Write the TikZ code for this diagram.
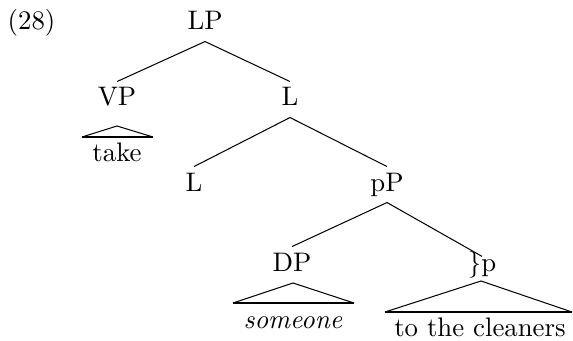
\documentclass[tikz,border=0pt]{standalone}
\begin{document}
\begin{tikzpicture}[x=0.39pt,y=-0.39pt,
  every node/.append style={font=\fontsize{10.45}{12}\selectfont},
  lab/.style={anchor=base,inner xsep=1pt,inner ysep=2.5pt,text height=6.83pt,text depth=1.8pt},
  word/.style={anchor=base,inner sep=0pt},
  branch/.style={line width=0.4pt},
  tribase/.style={line width=0.85pt},
  trisides/.style={line width=0.4pt}]
\useasboundingbox (0,0) rectangle (573,341);
\node[word] (ex) at (31.5,30) {(28)};
\node[lab] (LP) at (205,30) {LP};
\node[lab] (VP) at (117,106) {VP};
\node[lab] (L1) at (290,106) {L};
\node[lab] (L2) at (194,191) {L};
\node[lab] (pP) at (387,191) {pP};
\node[lab] (DP) at (292,271) {DP};
\node[lab,text height=3pt] (pp) at (482,271) {\}p};
\draw[branch] (LP.south) -- (VP.north);
\draw[branch] (LP.south) -- (L1.north);
\draw[branch] (L1.south) -- (L2.north);
\draw[branch] (L1.south) -- (pP.north);
\draw[branch] (pP.south) -- (DP.north);
\draw[branch] (pP.south) -- (pp.north);
% triangle under VP
\coordinate (vpA) at (117,126);
\coordinate (vpL) at (82,137);
\coordinate (vpR) at (153,137);
\draw[trisides] (vpL) -- (vpA) -- (vpR);
\draw[tribase] (vpL) -- (vpR);
\node[word] (take) at (117,162) {take};
% triangle under DP
\coordinate (dpA) at (293,283);
\coordinate (dpL) at (233,303);
\coordinate (dpR) at (354,303);
\draw[trisides] (dpL) -- (dpA) -- (dpR);
\draw[tribase] (dpL) -- (dpR);
\node[word] (someone) at (293,328) {\textit{someone}};
% triangle under }p
\coordinate (ppA) at (481,281);
\coordinate (ppL) at (385,312);
\coordinate (ppR) at (572,312);
\draw[trisides] (ppL) -- (ppA) -- (ppR);
\draw[tribase] (ppL) -- (ppR);
\node[word] (cleaners) at (480,336) {to the cleaners};
\end{tikzpicture}
\end{document}
